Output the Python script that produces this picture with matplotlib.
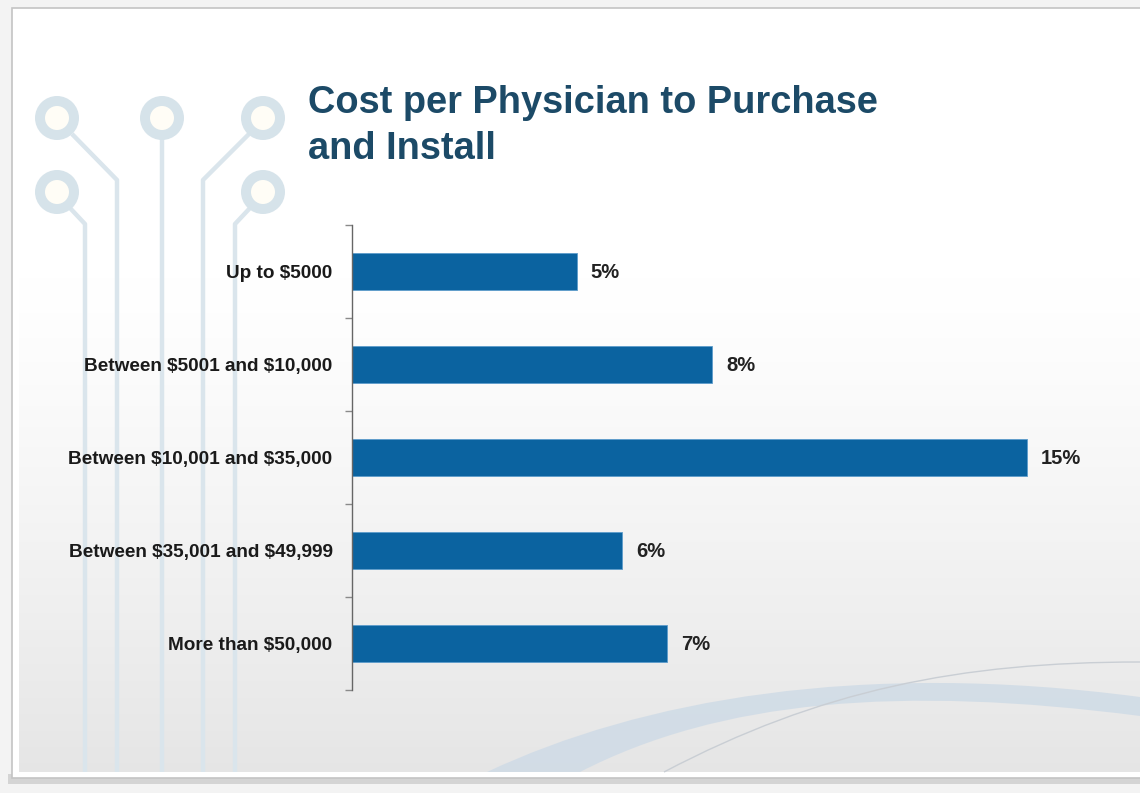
import numpy as np
import matplotlib
matplotlib.use("Agg")
import matplotlib.pyplot as plt
from matplotlib.patches import Rectangle, Circle, PathPatch
from matplotlib.path import Path

categories = ["Up to $5000",
              "Between $5001 and $10,000",
              "Between $10,001 and $35,000",
              "Between $35,001 and $49,999",
              "More than $50,000"]
values = [5, 8, 15, 6, 7]
value_labels = ["5%", "8%", "15%", "6%", "7%"]

title = "Cost per Physician to Purchase\nand Install"

plt.rcParams['font.family'] = ['Liberation Sans', 'DejaVu Sans']
plt.rcParams['text.parse_math'] = False

W, H = 1140, 793
fig = plt.figure(figsize=(W / 100, H / 100), dpi=100)
fig.patch.set_facecolor('#f3f3f3')

# slide background, drawn in pixel coordinates
bg = fig.add_axes([0, 0, 1, 1], zorder=0)
bg.axis('off')

bg.add_patch(Rectangle((8, 774), W, 10, facecolor='#d4d4d4', edgecolor='none'))
bg.add_patch(Rectangle((12, 8), W, 770, facecolor='white', edgecolor='#c4c4c4', lw=1.2))

# vertical gradient: white at top, light grey at the bottom
t = np.linspace(0, 1, 400)
shade = np.clip((t - 0.35) / 0.65, 0, 1) ** 1.2
grad = 1.0 - 0.10 * shade
img = np.stack([grad, grad, grad], axis=-1)[:, None, :].repeat(2, axis=1)
bg.imshow(img, extent=(19, W, 772, 14), aspect='auto', interpolation='bilinear', zorder=1)
bg.set_xlim(0, W)
bg.set_ylim(H, 0)

# circuit decoration
line_col = '#dae5ec'
traces = [
    [(72, 134), (117, 180), (117, 772)],
    [(162, 138), (162, 772)],
    [(249, 134), (203, 180), (203, 772)],
    [(70, 208), (85, 224), (85, 772)],
    [(250, 208), (235, 224), (235, 772)],
]
for tr in traces:
    xs, ys = zip(*tr)
    bg.plot(xs, ys, color=line_col, lw=3.2, solid_capstyle='butt', zorder=2)
for cx, cy in [(57, 118), (162, 118), (263, 118), (57, 192), (263, 192)]:
    bg.add_patch(Circle((cx, cy), 22, facecolor='#d6e3ea', edgecolor='none', zorder=3))
    bg.add_patch(Circle((cx, cy), 12, facecolor='#fffdf6', edgecolor='none', zorder=3))

# swoosh at the bottom right
band = Path([(487, 772), (640, 700), (860, 660), (1140, 697),
             (1140, 716), (900, 685), (720, 700), (580, 772), (487, 772)],
            [Path.MOVETO, Path.CURVE4, Path.CURVE4, Path.CURVE4,
             Path.LINETO, Path.CURVE4, Path.CURVE4, Path.CURVE4, Path.CLOSEPOLY])
bg.add_patch(PathPatch(band, facecolor='#cfdbe6', edgecolor='none', alpha=0.85, zorder=2))
thin = Path([(664, 772), (820, 690), (960, 662), (1140, 662)],
            [Path.MOVETO, Path.CURVE4, Path.CURVE4, Path.CURVE4])
bg.add_patch(PathPatch(thin, facecolor='none', edgecolor='#c9ced4', lw=1.0, zorder=2))

# title
fig.text(308 / W, 1 - 85 / H, title, ha='left', va='top', fontsize=27.4,
         fontweight='bold', color='#1c4a67', linespacing=1.36)

# bar chart
ax = fig.add_axes([352 / W, 1 - 690 / H, (1072 - 352) / W, 465 / H], zorder=2)
ax.patch.set_alpha(0)
y = np.arange(len(categories))
ax.barh(y, values, height=0.39, color='#0b63a0', edgecolor='#5d9ccb', linewidth=0.6)
ax.set_xlim(0, 16)
ax.set_ylim(len(categories) - 0.5, -0.5)
ax.set_yticks(y)
ax.set_yticklabels(categories, fontsize=13.7, fontweight='bold', color='#1a1a1a')
ax.set_yticks(np.arange(-0.5, len(categories)), minor=True)
ax.tick_params(axis='y', which='major', length=0, pad=14)
ax.tick_params(axis='y', which='minor', length=5, width=1, color='#8a8a8a')
ax.set_xticks([])
for s in ['top', 'right', 'bottom']:
    ax.spines[s].set_visible(False)
ax.spines['left'].set_color('#666666')
ax.spines['left'].set_linewidth(1)

for yi, v, lab in zip(y, values, value_labels):
    ax.annotate(lab, (v, yi), xytext=(10, -1), textcoords='offset points',
                ha='left', va='center', fontsize=14.5, fontweight='bold', color='#222222')

fig.savefig('out.png', dpi=100)
